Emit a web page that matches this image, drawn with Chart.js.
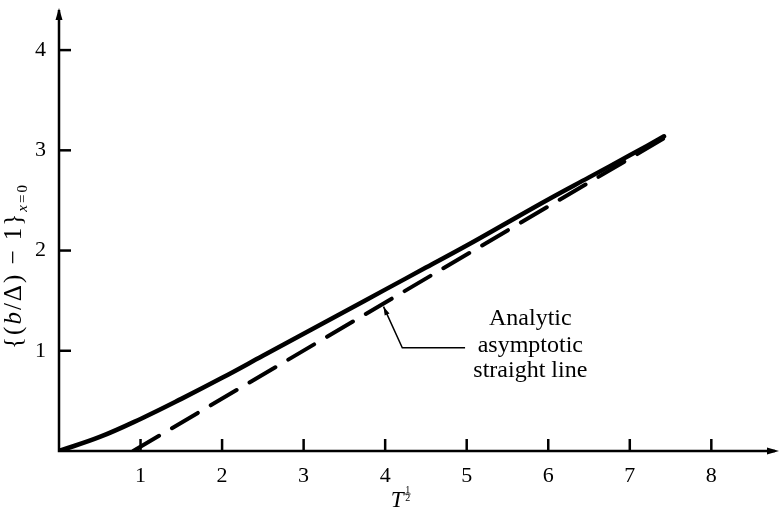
<!DOCTYPE html>
<html>
<head>
<meta charset="utf-8">
<script src="https://cdn.jsdelivr.net/npm/chart.js@4.4.1/dist/chart.umd.min.js"></script>
<style>
  body { margin: 0; background: #fff; }
  #wrap { width: 779px; height: 509px; }
</style>
</head>
<body>
<div id="wrap"><canvas id="myChart" width="779" height="509"></canvas></div>
<script>
// values
const tValues = [0, 0.5, 1, 1.5, 2, 2.5, 3, 3.5, 4, 4.5, 5, 5.5, 6, 6.5, 7, 7.42];
const curveValues = [0, 0.14, 0.32, 0.52, 0.73, 0.95, 1.17, 1.39, 1.61, 1.83, 2.05, 2.28, 2.51, 2.73, 2.95, 3.14];
const asymT = [0.91, 7.44];
const asymValues = [0, 3.13];
const xTicks = [1, 2, 3, 4, 5, 6, 7, 8];
const yTicks = [1, 2, 3, 4];
const xMax = 8.83;
const yMax = 4.42;
const noteLines = ['Analytic', 'asymptotic', 'straight line'];

const serif = '"Liberation Serif", "DejaVu Serif", serif';

// axes with arrows, inward ticks, labels and the arrow note
const figurePlugin = {
  id: 'figure',
  beforeDatasetsDraw(chart) {
    const { ctx, chartArea: a, scales: { x, y } } = chart;
    ctx.save();
    ctx.strokeStyle = '#000';
    ctx.fillStyle = '#000';
    ctx.lineWidth = 2.5;
    ctx.beginPath();
    ctx.moveTo(a.left, a.top + 2);
    ctx.lineTo(a.left, a.bottom);
    ctx.lineTo(a.right - 4, a.bottom);
    ctx.stroke();
    // arrow heads
    ctx.beginPath();
    ctx.moveTo(a.left, a.top);
    ctx.lineTo(a.left - 3.5, a.top + 12);
    ctx.lineTo(a.left + 3.5, a.top + 12);
    ctx.closePath();
    ctx.fill();
    ctx.beginPath();
    ctx.moveTo(a.right, a.bottom);
    ctx.lineTo(a.right - 12, a.bottom - 3.5);
    ctx.lineTo(a.right - 12, a.bottom + 3.5);
    ctx.closePath();
    ctx.fill();
    // ticks pointing inward
    xTicks.forEach(v => {
      const px = x.getPixelForValue(v);
      ctx.beginPath();
      ctx.moveTo(px, a.bottom);
      ctx.lineTo(px, a.bottom - 12);
      ctx.stroke();
    });
    yTicks.forEach(v => {
      const py = y.getPixelForValue(v);
      ctx.beginPath();
      ctx.moveTo(a.left, py);
      ctx.lineTo(a.left + 12, py);
      ctx.stroke();
    });
    ctx.restore();
  },
  afterDraw(chart) {
    const { ctx, chartArea: a, scales: { x, y } } = chart;
    ctx.save();
    ctx.fillStyle = '#000';
    ctx.strokeStyle = '#000';

    // note text
    ctx.font = '24px ' + serif;
    ctx.textAlign = 'center';
    ctx.textBaseline = 'alphabetic';
    const noteX = x.getPixelForValue(5.78);
    const noteY = [1.26, 0.99, 0.74];
    noteLines.forEach((s, i) => ctx.fillText(s, noteX, y.getPixelForValue(noteY[i])));

    // pointer to the dashed line
    const tip = [x.getPixelForValue(3.98), y.getPixelForValue(1.44)];
    const bend = [x.getPixelForValue(4.21), y.getPixelForValue(1.03)];
    const end = [x.getPixelForValue(4.98), y.getPixelForValue(1.03)];
    ctx.lineWidth = 1.5;
    ctx.beginPath();
    ctx.moveTo(end[0], end[1]);
    ctx.lineTo(bend[0], bend[1]);
    ctx.lineTo(tip[0], tip[1]);
    ctx.stroke();
    const ang = Math.atan2(tip[1] - bend[1], tip[0] - bend[0]);
    ctx.beginPath();
    ctx.moveTo(tip[0], tip[1]);
    ctx.lineTo(tip[0] - 9 * Math.cos(ang - 0.3), tip[1] - 9 * Math.sin(ang - 0.3));
    ctx.lineTo(tip[0] - 9 * Math.cos(ang + 0.3), tip[1] - 9 * Math.sin(ang + 0.3));
    ctx.closePath();
    ctx.fill();

    // x axis title: T with stacked 1/2
    ctx.textAlign = 'left';
    ctx.font = 'italic 23px ' + serif;
    const tx = x.getPixelForValue(4.07);
    ctx.fillText('T', tx, 507);
    const fx = tx + ctx.measureText('T').width + 4;
    ctx.font = '10px ' + serif;
    ctx.textAlign = 'center';
    ctx.fillText('1', fx, 493);
    ctx.fillText('2', fx, 501);
    ctx.lineWidth = 0.8;
    ctx.beginPath();
    ctx.moveTo(fx - 3, 494);
    ctx.lineTo(fx + 3, 494);
    ctx.stroke();

    // y axis title, rotated
    ctx.translate(21, 266);
    ctx.rotate(-Math.PI / 2);
    ctx.textAlign = 'left';
    ctx.letterSpacing = '2px';
    const parts = [
      { s: '{(', f: '25px ', dy: 0 },
      { s: 'b', f: 'italic 25px ', dy: 0 },
      { s: '/Δ) − 1}', f: '25px ', dy: 0 },
      { s: 'x', f: 'italic 15px ', dy: 6 },
      { s: '=0', f: '15px ', dy: 6 }
    ];
    let total = 0;
    parts.forEach(p => { ctx.font = p.f + serif; total += ctx.measureText(p.s).width; });
    let cx = -total / 2;
    parts.forEach(p => {
      ctx.font = p.f + serif;
      ctx.fillText(p.s, cx, p.dy);
      cx += ctx.measureText(p.s).width;
    });
    ctx.restore();
  }
};

const ctx = document.getElementById('myChart').getContext('2d');
const chart = new Chart(ctx, {
  type: 'line',
  data: {
    datasets: [
      {
        data: tValues.map((t, i) => ({ x: t, y: curveValues[i] })),
        borderColor: '#000',
        borderWidth: 4.5,
        pointRadius: 0,
        tension: 0.4,
        borderCapStyle: 'round'
      },
      {
        data: asymT.map((t, i) => ({ x: t, y: asymValues[i] })),
        borderColor: '#000',
        borderWidth: 4,
        pointRadius: 0,
        borderDash: [30, 15],
        borderCapStyle: 'round'
      }
    ]
  },
  options: {
    responsive: false,
    animation: false,
    devicePixelRatio: 1,
    layout: { padding: { top: 8, left: 0, right: 0, bottom: 0 } },
    plugins: { legend: { display: false }, tooltip: { enabled: false } },
    scales: {
      x: {
        type: 'linear',
        min: 0,
        max: xMax,
        grid: { display: false, drawTicks: false },
        border: { display: false },
        afterBuildTicks: s => { s.ticks = xTicks.map(v => ({ value: v })); },
        afterFit: s => { s.height = 58; s.paddingLeft = 0; s.paddingRight = 0; },
        ticks: { color: '#000', font: { family: serif, size: 22 }, padding: 12, maxRotation: 0, autoSkip: false }
      },
      y: {
        min: 0,
        max: yMax,
        grid: { display: false, drawTicks: false },
        border: { display: false },
        afterBuildTicks: s => { s.ticks = yTicks.map(v => ({ value: v })); },
        afterFit: s => { s.width = 59; s.paddingTop = 0; s.paddingBottom = 0; },
        ticks: { color: '#000', font: { family: serif, size: 22 }, padding: 13 }
      }
    }
  },
  plugins: [figurePlugin]
});
</script>
</body>
</html>
